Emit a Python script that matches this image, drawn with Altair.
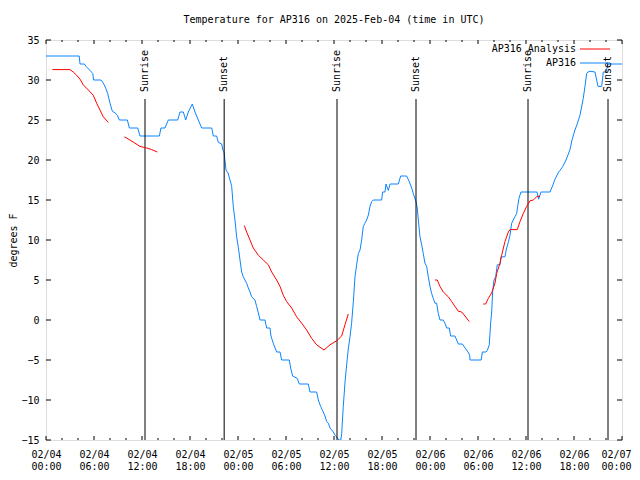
import altair as alt
import pandas as pd

# ---------------- data (hours since 02/04 00:00 UTC, temperature in F) ----------------
obs_hours = [0, 4.15, 4.25, 4.8, 5.0, 5.5, 5.85, 5.95, 6.87, 7.17, 7.46, 7.71, 8.0, 8.29, 8.62, 8.92,
             9.17, 10.17, 10.42, 11.46, 11.75, 14.17, 14.37, 14.87, 15.29, 16.46, 16.75, 17.17, 17.46,
             17.79, 18.29, 18.62, 19.04, 19.46, 20.71, 20.92, 21.33, 21.54, 21.96, 22.12, 22.25, 22.5,
             22.75, 23.0, 23.21, 23.41, 23.62, 23.83, 24.04, 24.25, 24.46, 24.66, 24.87, 25.08, 25.29,
             25.5, 25.71, 26.12, 26.33, 26.54, 26.75, 27.37, 27.58, 28.0, 28.12, 28.41, 28.83, 29.25,
             29.46, 30.41, 30.58, 30.83, 31.41, 31.66, 32.79, 33.0, 33.83, 34.04, 34.33, 34.66, 34.87,
             35.08, 35.29, 35.5, 35.91, 36.12, 36.33, 36.6, 36.85, 36.96, 37.16, 37.4, 37.6, 37.8, 38.0,
             38.2, 38.42, 38.62, 38.83, 39.04, 39.25, 39.46, 39.66, 39.87, 40.08, 40.29, 40.5, 40.71,
             40.91, 41.96, 42.08, 42.37, 42.5, 42.79, 43.0, 44.04, 44.33, 45.08, 45.41, 45.71, 45.91,
             46.25, 46.41, 46.54, 46.75, 46.96, 47.16, 47.37, 47.58, 47.79, 48.0, 48.21, 48.41, 48.62,
             48.83, 49.04, 49.25, 49.66, 49.87, 50.08, 50.41, 50.58, 51.12, 51.33, 51.54, 52.04, 52.75,
             52.96, 53.0, 54.4, 54.54, 55.0, 55.17, 55.41, 55.58, 55.71, 55.83, 56.0, 56.21, 56.41,
             56.75, 56.87, 57.37, 57.58, 57.79, 58.0, 58.21, 58.41, 58.62, 58.83, 58.96, 59.12, 59.37,
             61.37, 61.58, 61.87, 63.0, 63.21, 63.41, 63.62, 63.83, 64.08, 64.25, 64.6, 65.0, 65.5,
             65.75, 66.12, 66.4, 66.75, 67.16, 67.37, 67.58, 67.75, 68.0, 68.62, 69.0, 69.46, 69.66,
             70.0, 70.25, 72.0]
obs_temps = [33, 33, 32, 32, 31.7, 31.2, 30.8, 30, 30, 29.6, 29.0, 28.3, 27.1, 26.1, 25.9, 25.6,
             25, 25, 24, 24, 23, 23, 24, 24, 25, 25, 26, 26, 25,
             26, 27, 26, 25, 24, 24, 23, 23, 22.2, 22, 21.2, 21, 18.75,
             18.4, 17.5, 16.7, 14.2, 12.5, 10.4, 9.1, 7.5, 6.0, 5.4, 5.0, 4.6, 4.0,
             3.5, 2.9, 2.5, 1.7, 0.9, 0, 0, -1, -1, -2, -2.9, -4, -4,
             -5, -5, -6, -7, -7.3, -8, -8, -9, -9, -10, -10.8, -11.5, -12,
             -12.7, -12.9, -13.5, -14, -14.4, -14.6, -15, -15, -14.2, -10.8, -7.5, -5.4, -3.5, -2.1,
             -0.4, 2.3, 5.4, 6.9, 8.3, 8.75, 10, 11.7, 12.1, 12.5, 13.1, 14.2, 14.8,
             15, 15, 16, 16, 17, 16.2, 17, 17, 18, 18, 17.3, 16.5, 15.8,
             14.8, 14, 12.5, 10.4, 9.4, 8.3, 7.1, 6.7, 5.4, 4.2, 3.3, 2.7, 2.1,
             2.1, 0.8, 0, 0, -0.4, -1, -1, -2, -2, -2.5, -3, -3, -4,
             -4.4, -5, -5, -4, -4, -3.8, -3.1, -0.4, 1.0, 3.5, 5.0, 5.4, 6.9,
             6.9, 7.9, 7.9, 9.0, 9.7, 10.6, 12.1, 12.5, 12.9, 13.3, 14.2, 15.2, 16,
             16, 15.1, 16, 16, 16.5, 17, 17.6, 18, 18.5, 18.7, 19.2, 20, 21.3,
             22.5, 23.75, 24.5, 25.6, 27.7, 29.2, 30.8, 31.0, 31.1, 31, 29.2, 29.2, 31,
             31, 32, 32]

ana_segments = [
    ([0.79, 3.0, 3.41, 3.83, 4.25, 4.66, 5.29, 5.91, 6.33, 6.75, 7.16, 7.79],
     [31.3, 31.3, 31.0, 30.6, 30.1, 29.4, 28.75, 28.1, 27.1, 26.25, 25.4, 24.7]),
    ([9.79, 10.5, 11.12, 11.75, 12.58, 13.21, 13.91],
     [22.9, 22.5, 22.1, 21.7, 21.5, 21.3, 21.0]),
    ([24.79, 25.08, 25.5, 25.91, 26.54, 27.16, 27.79, 28.21, 28.83, 29.25, 29.66, 30.08, 30.71,
      31.33, 31.96, 32.58, 33.21, 33.83, 34.75, 35.5, 36.33, 36.96, 37.37, 37.79],
     [11.8, 11.0, 10.0, 9.0, 8.1, 7.5, 6.9, 6.0, 5.0, 4.2, 3.1, 2.3, 1.5,
      0.4, -0.4, -1.25, -2.3, -3.1, -3.75, -3.1, -2.6, -2.0, -0.6, 0.75]),
    ([48.62, 48.91, 49.25, 49.66, 50.29, 50.71, 51.12, 51.54, 51.96, 52.37, 52.91],
     [5.0, 5.0, 4.2, 3.5, 2.9, 2.3, 1.7, 1.1, 1.0, 0.5, -0.2]),
    ([54.66, 54.96, 55.29, 55.71, 56.12, 56.33, 56.75, 56.96, 57.37, 57.79, 58.0, 58.91, 59.25,
      59.66, 60.08, 60.5, 60.91, 61.33, 61.75],
     [2.0, 2.0, 2.7, 3.4, 4.6, 5.8, 7.1, 8.1, 9.8, 11.0, 11.3, 11.3, 12.3,
      13.3, 14.2, 14.9, 15.0, 15.4, 15.5]),
]

sun_hours = [12.375, 22.27, 36.375, 46.25, 60.25, 70.25]
sun_labels = ["Sunrise", "Sunset", "Sunrise", "Sunset", "Sunrise", "Sunset"]

x_tick_values = [0, 6, 12, 18, 24, 30, 36, 42, 48, 54, 60, 66, 72]
x_minor_values = [2, 4, 8, 10, 14, 16, 20, 22, 26, 28, 32, 34, 38, 40, 44, 46, 50, 52, 56, 58, 62, 64, 68, 70]
day_labels = ["02/04", "02/04", "02/04", "02/04", "02/05", "02/05", "02/05", "02/05",
              "02/06", "02/06", "02/06", "02/06", "02/07"]
time_labels = ["00:00", "06:00", "12:00", "18:00"] * 3 + ["00:00"]
y_tick_values = [-15, -10, -5, 0, 5, 10, 15, 20, 25, 30, 35]

legend_names = ["AP316 Analysis", "AP316"]
title_text = "Temperature for AP316 on 2025-Feb-04 (time in UTC)"
y_title = "degrees F"

RED = "#ff0000"
BLUE = "#0a84ff"
FONT = "DejaVu Sans Mono"
W, H = 576, 400

# ---------------- frames ----------------
obs_df = pd.DataFrame({"h": obs_hours, "T": obs_temps})
rows = []
for i, (hs, ts) in enumerate(ana_segments):
    for h, t in zip(hs, ts):
        rows.append({"h": h, "T": t, "seg": i})
ana_df = pd.DataFrame(rows)
sun_df = pd.DataFrame({"h": sun_hours, "label": sun_labels})
xmaj_df = pd.DataFrame({"h": x_tick_values})
xmin_df = pd.DataFrame({"h": x_minor_values})
ytick_df = pd.DataFrame({"T": y_tick_values})

label_expr = "[" + ",".join(f"['{d}','{t}']" for d, t in zip(day_labels, time_labels)) + "][round(datum.value/6)]"

xscale = alt.Scale(domain=[0, 72], nice=False, zero=False)
yscale = alt.Scale(domain=[-15, 35], nice=False, zero=False)
xaxis = alt.Axis(values=x_tick_values, labelExpr=label_expr, title=None, ticks=False, domain=False,
                 grid=False, labelPadding=9, labelFontSize=10, labelFont=FONT, labelFlush=False,
                 labelBaseline="top", labelLineHeight=12, labelColor="black", labelOverlap=False,
                 labelOffset={"condition": {"test": f"datum.value == {x_tick_values[-1]}", "value": -6},
                              "value": 0})
yaxis = alt.Axis(values=y_tick_values, title=y_title, ticks=False, domain=False, grid=False,
                 labelPadding=7, labelFontSize=10, labelFont=FONT, labelColor="black",
                 titleFont=FONT, titleFontSize=10, titleFontWeight="normal", titleColor="black",
                 titleAngle=270, titleX=-33, titleY=200, titleAlign="center", titleBaseline="middle")

X = alt.X("h:Q", scale=xscale, axis=xaxis)
Y = alt.Y("T:Q", scale=yscale, axis=yaxis)

blue = alt.Chart(obs_df).mark_line(color=BLUE, strokeWidth=1, clip=True).encode(x=X, y=Y)
red = alt.Chart(ana_df).mark_line(color=RED, strokeWidth=1, clip=True).encode(x=X, y=Y, detail="seg:N")

sun_rule = alt.Chart(sun_df).mark_rule(color="black", strokeWidth=1).encode(
    x=X, y=alt.value(59), y2=alt.value(H))
sun_text = alt.Chart(sun_df).mark_text(angle=270, align="left", baseline="middle", font=FONT,
                                       fontSize=10, color="black").encode(
    x=X, y=alt.value(52), text="label:N")

tick_bot_maj = alt.Chart(xmaj_df).mark_rule(color="black").encode(x=X, y=alt.value(H), y2=alt.value(H - 4))
tick_top_maj = alt.Chart(xmaj_df).mark_rule(color="black").encode(x=X, y=alt.value(0), y2=alt.value(4))
tick_bot_min = alt.Chart(xmin_df).mark_rule(color="black").encode(x=X, y=alt.value(H), y2=alt.value(H - 2))
tick_top_min = alt.Chart(xmin_df).mark_rule(color="black").encode(x=X, y=alt.value(0), y2=alt.value(2))
tick_left = alt.Chart(ytick_df).mark_rule(color="black").encode(y=Y, x=alt.value(0), x2=alt.value(5))
tick_right = alt.Chart(ytick_df).mark_rule(color="black").encode(y=Y, x=alt.value(W), x2=alt.value(W - 5))

leg1_df = pd.DataFrame({"name": [legend_names[0]]})
leg2_df = pd.DataFrame({"name": [legend_names[1]]})
leg_text1 = alt.Chart(leg1_df).mark_text(align="right", baseline="middle", font=FONT, fontSize=10,
                                         color="black").encode(text="name:N", x=alt.value(530), y=alt.value(9))
leg_text2 = alt.Chart(leg2_df).mark_text(align="right", baseline="middle", font=FONT, fontSize=10,
                                         color="black").encode(text="name:N", x=alt.value(530), y=alt.value(23))
leg_line1 = alt.Chart(leg1_df).mark_rule(color=RED, strokeWidth=1).encode(
    x=alt.value(534), x2=alt.value(564), y=alt.value(9))
leg_line2 = alt.Chart(leg2_df).mark_rule(color=BLUE, strokeWidth=1).encode(
    x=alt.value(534), x2=alt.value(564), y=alt.value(23))

chart = alt.layer(
    blue, tick_bot_maj, tick_top_maj, tick_bot_min, tick_top_min, tick_left, tick_right,
    sun_rule, sun_text, red, leg_text1, leg_text2, leg_line1, leg_line2
).properties(
    width=W, height=H,
    title=alt.TitleParams(title_text, font=FONT, fontSize=10, fontWeight="normal", color="black",
                          anchor="middle", offset=10),
    autosize=alt.AutoSizeParams(type="none"),
    padding={"left": 38, "top": 32, "right": 10, "bottom": 32},
).configure_view(stroke="black", strokeWidth=1).configure(background="white")

chart.save("out.html", embed_options={"renderer": "svg", "actions": False})
